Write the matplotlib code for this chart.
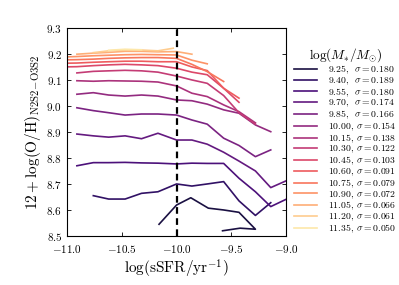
import numpy as np
import matplotlib
matplotlib.use("Agg")
import matplotlib.pyplot as plt

plt.rcParams['font.family'] = 'serif'
plt.rcParams['font.serif'] = ['cmr10']
plt.rcParams['mathtext.fontset'] = 'cm'
plt.rcParams['axes.formatter.use_mathtext'] = True

# stellar mass bins and scatter
masses = [9.25, 9.40, 9.55, 9.70, 9.85, 10.00, 10.15, 10.30, 10.45, 10.60, 10.75, 10.90, 11.05, 11.20, 11.35]
sigmas = [0.180, 0.189, 0.180, 0.174, 0.166, 0.154, 0.138, 0.122, 0.103, 0.091, 0.079, 0.072, 0.066, 0.061, 0.050]

g = [-10.91, -10.76, -10.62, -10.47, -10.32, -10.17, -10.0, -9.86, -9.72, -9.57, -9.43, -9.28, -9.14, -9.0]

ssfr = {
    9.25: [-10.16, -10.0, -9.87, -9.71, -9.57, -9.43, -9.28, -9.42, -9.58],
    9.40: g[1:13],
    9.55: g,
    9.70: g,
    9.85: g[:13],
    10.00: g[:13],
    10.15: g[:12],
    10.30: g[:12],
    10.45: [-11.05] + g[:11],
    10.60: [-11.05] + g[:11],
    10.75: [-11.05] + g[:10],
    10.90: [-11.05] + g[:9],
    11.05: g[:8],
    11.20: [-10.76, -10.62, -10.47, -10.32, -10.17, -10.03],
    11.35: [-10.62, -10.47, -10.32],
}
oh = {
    9.25: [8.545, 8.619, 8.647, 8.607, 8.600, 8.591, 8.526, 8.530, 8.520],
    9.40: [8.655, 8.642, 8.642, 8.664, 8.670, 8.700, 8.692, 8.700, 8.709, 8.635, 8.579, 8.628],
    9.55: [8.770, 8.782, 8.782, 8.783, 8.781, 8.780, 8.777, 8.780, 8.779, 8.779, 8.722, 8.670, 8.613, 8.641],
    9.70: [8.892, 8.885, 8.880, 8.885, 8.874, 8.895, 8.869, 8.869, 8.853, 8.822, 8.788, 8.750, 8.686, 8.712],
    9.85: [8.993, 8.982, 8.974, 8.965, 8.969, 8.969, 8.965, 8.946, 8.930, 8.876, 8.848, 8.805, 8.831],
    10.00: [9.045, 9.051, 9.042, 9.038, 9.042, 9.038, 9.023, 9.020, 9.007, 8.985, 8.972, 8.927, 8.901],
    10.15: [9.097, 9.095, 9.097, 9.096, 9.095, 9.092, 9.077, 9.049, 9.036, 9.004, 8.978, 8.935],
    10.30: [9.127, 9.133, 9.135, 9.137, 9.135, 9.130, 9.115, 9.100, 9.087, 9.040, 8.974, 8.930],
    10.45: [9.150, 9.151, 9.155, 9.158, 9.160, 9.158, 9.155, 9.145, 9.130, 9.120, 9.068, 9.014],
    10.60: [9.164, 9.165, 9.168, 9.170, 9.172, 9.172, 9.170, 9.170, 9.150, 9.136, 9.068, 9.030],
    10.75: [9.177, 9.178, 9.180, 9.183, 9.185, 9.186, 9.186, 9.183, 9.160, 9.132, 9.094],
    10.90: [9.188, 9.190, 9.193, 9.195, 9.197, 9.198, 9.197, 9.196, 9.176, 9.162],
    11.05: [9.199, 9.203, 9.206, 9.210, 9.210, 9.208, 9.209, 9.199],
    11.20: [9.205, 9.212, 9.215, 9.215, 9.212, 9.222],
    11.35: [9.214, 9.218, 9.216],
}

colors = plt.cm.magma(np.linspace(0.12, 0.95, len(masses)))

fig = plt.figure(figsize=(3.99, 2.85), dpi=100)
ax = fig.add_axes([0.168, 0.172, 0.549, 0.730])

for m, s, c in zip(masses, sigmas, colors):
    sp = ',  ' if m < 10 else ', '
    ax.plot(ssfr[m], oh[m], color=c, lw=1.2,
            label=r'%.2f%s$\sigma = %.3f$' % (m, sp, s))

ax.axvline(-10.0, color='k', ls='--', lw=1.6, dashes=(3, 2))

ax.set_xlim(-11, -9)
ax.set_ylim(8.5, 9.3)
ax.set_xticks([-11.0, -10.5, -10.0, -9.5, -9.0])
ax.set_yticks(np.arange(8.5, 9.31, 0.1))
ax.tick_params(direction='in', top=True, right=True, labelsize=8, length=3, width=0.6)
ax.tick_params(axis='x', pad=5)
for sp_ in ax.spines.values():
    sp_.set_linewidth(0.8)
ax.set_xlabel(r'$\log({\rm sSFR/yr^{-1}})$', fontsize=11, labelpad=2)
ax.set_ylabel(r'$12+\log({\rm O/H})_{\rm N2S2\!-\!O3S2}$', fontsize=11, labelpad=2)

leg = ax.legend(loc='upper left', bbox_to_anchor=(1.02, 0.93), frameon=False,
                fontsize=7, title=r'$\log(M_{*}/M_{\odot})$', title_fontsize=9.5,
                handlelength=2.3, labelspacing=-0.07, handletextpad=1.2, borderaxespad=0)

fig.savefig('out.png', dpi=100)
